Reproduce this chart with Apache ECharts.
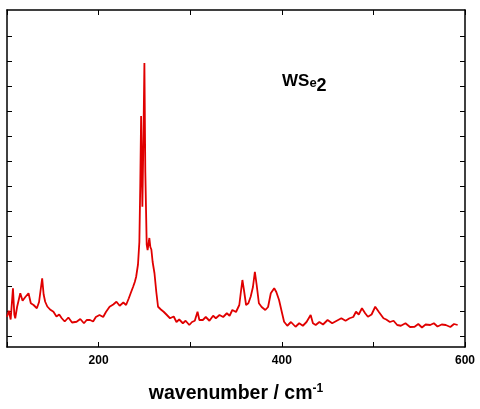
<!DOCTYPE html>
<html>
<head>
<meta charset="utf-8">
<script src="https://cdn.jsdelivr.net/npm/echarts@6/dist/echarts.min.js"></script>
<style>html,body{margin:0;padding:0;background:#fff}#main{width:480px;height:409px}</style>
</head>
<body>
<div id="main"></div>
<script>
var wavenumber = [100,102,104,106.5,108,109,111,114.5,117,120,122,123.5,126,129,132.6,135,138.4,140,141.7,144,147,150.7,154,157,159.8,163,167,171,176,180,184,187,190.6,194,197,201,205,208,212,216,219.5,223,227,230,233,235,237.7,239.5,241,243,244.5,245.5,246.4,247.2,247.8,249,250,251,252.5,253.5,255.4,256.5,257.6,259,261,263,264.9,268,271,274,278,282,285,288,292,295,299,302,305,308,310,313.8,317,321,325,328,332,336,340,343,346,350,353.6,355,357,359,361,363.5,366,368.5,370.6,372.5,375,378,382,385,388,391.7,394,397,400,402.5,406,410,415,419,423,427,431.5,434,437,441,445,450,455,460,465,469.6,474,478,481,484,487.5,491,494,498,502,506,511,514,518,522,526,530,535,540,545,549,553,557,562,566,570,574.6,579,584,588,592,596,600];
var intensity = [1.21,1.45,1.1,2.35,1.3,1.15,1.6,2.15,1.85,2.0,1.95,2.15,1.75,1.68,1.55,1.8,2.75,2.1,1.81,1.62,1.5,1.41,1.22,1.3,1.15,1.02,1.18,0.98,1.01,1.12,0.95,1.08,1.08,1.02,1.2,1.28,1.2,1.4,1.61,1.7,1.81,1.65,1.78,1.68,1.95,2.15,2.41,2.6,2.81,3.3,4.2,6.5,9.24,7.0,5.61,8.5,11.36,7.0,4.1,3.88,4.36,4.0,3.9,3.4,2.95,2.2,1.61,1.5,1.41,1.3,1.15,1.22,1.0,1.1,0.95,1.05,0.88,1.0,1.05,1.41,1.08,1.08,1.2,1.05,1.25,1.15,1.28,1.2,1.35,1.25,1.48,1.4,1.68,2.1,2.68,2.2,1.68,1.75,2.01,2.4,3.01,2.5,1.75,1.6,1.48,1.6,2.15,2.35,2.2,1.88,1.4,1.01,0.85,1.0,0.81,0.95,0.85,1.0,1.28,0.95,0.88,1.0,0.9,1.08,0.95,1.05,1.15,1.05,1.15,1.2,1.41,1.3,1.55,1.35,1.21,1.3,1.61,1.4,1.15,1.1,1.0,1.05,0.88,0.85,0.95,0.8,0.81,0.92,0.78,0.9,0.88,0.95,0.82,0.9,0.88,0.8,0.92,0.88];
var yTicks = [0.44,1.44,2.44,3.44,4.44,5.44,6.44,7.44,8.44,9.44,10.44,11.44,12.44];
var xLabels = [200,400,600];

var chart = echarts.init(document.getElementById('main'));
var pts = [];
for (var i = 0; i < wavenumber.length; i++) pts.push([wavenumber[i], intensity[i]]);

var xAxisBase = {
    type: 'value', min: 100, max: 600, interval: 100,
    axisLine: {show: true, onZero: false, lineStyle: {color: '#000', width: 1.5}},
    axisTick: {show: true, inside: true, length: 5, lineStyle: {color: '#000'}},
    splitLine: {show: false}
};
var yAxisBase = {
    type: 'value', min: 0, max: 13.48,
    axisLine: {show: true, lineStyle: {color: '#000', width: 1.5}},
    axisTick: {show: true, inside: true, length: 5, customValues: yTicks, lineStyle: {color: '#000'}},
    axisLabel: {show: false},
    splitLine: {show: false}
};

chart.setOption({
    animation: false,
    grid: {left: 7, right: 15, top: 10, bottom: 62},
    xAxis: [
        Object.assign({}, xAxisBase, {
            position: 'bottom',
            name: 'wavenumber / cm{s|-1}', nameLocation: 'middle', nameGap: 36,
            nameTextStyle: {fontFamily: 'Liberation Sans', fontWeight: 'bold', fontSize: 19.5, color: '#000',
                rich: {s: {fontSize: 12, fontWeight: 'bold', verticalAlign: 'top', padding: [0, 0, 10, 0], fontFamily: 'Liberation Sans'}}},
            axisLabel: {show: true, fontFamily: 'Liberation Sans', fontWeight: 'bold', fontSize: 12, color: '#000', margin: 8,
                customValues: xLabels}
        }),
        Object.assign({}, xAxisBase, {position: 'top', axisLabel: {show: false}})
    ],
    yAxis: [
        Object.assign({}, yAxisBase, {position: 'left'}),
        Object.assign({}, yAxisBase, {position: 'right'})
    ],
    graphic: [{
        type: 'text', left: 282, top: 73,
        style: {
            text: '{a|WS}{b|e}{c|2}',
            rich: {
                a: {fontFamily: 'Liberation Sans', fontWeight: 'bold', fontSize: 17, fill: '#000'},
                b: {fontFamily: 'Liberation Sans', fontWeight: 'bold', fontSize: 13, fill: '#000', padding: [4, 0, 0, 0]},
                c: {fontFamily: 'Liberation Sans', fontWeight: 'bold', fontSize: 18, fill: '#000', padding: [10, 0, 0, 0]}
            }
        }
    }],
    series: [{
        type: 'line', data: pts, showSymbol: false,
        lineStyle: {color: '#e00000', width: 1.8},
        itemStyle: {color: '#e00000'}
    }]
});
</script>
</body>
</html>
